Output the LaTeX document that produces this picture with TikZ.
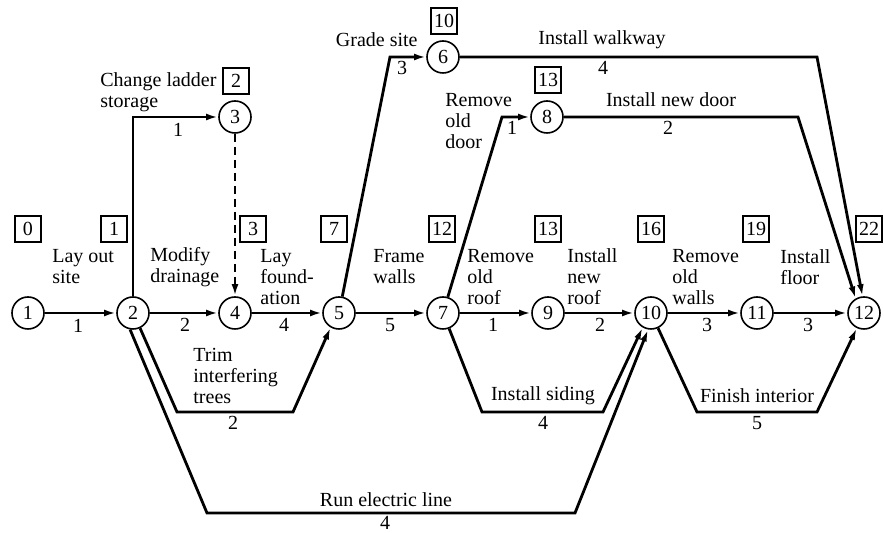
\documentclass[tikz,border=0pt]{standalone}
\usepackage{fontspec}
\setmainfont{Liberation Serif}
\usetikzlibrary{arrows.meta}
\tikzset{
  event/.style={circle, draw, line width=0.8pt, minimum size=16pt, inner sep=0pt,
                font=\fontsize{10}{10}\selectfont},
  timebox/.style={draw, line width=0.6pt, minimum width=13pt, minimum height=13pt,
                  inner sep=1pt, font=\fontsize{10}{10}\selectfont},
  lbl/.style={align=left, anchor=west, inner sep=0pt, font=\fontsize{10}{10.5}\selectfont},
  dur/.style={inner sep=0pt, font=\fontsize{10}{10}\selectfont},
  arr/.style={-{Latex[length=6pt,width=3.4pt]}, line width=1.4pt},
  dasharr/.style={arr, dash pattern=on 4pt off 2.5pt}}

\begin{document}
\begin{tikzpicture}[x=0.5pt, y=-0.5pt]
    \useasboundingbox (0,0) rectangle (884,533);
    % events
    \node[event] (n1)  at (28,313)  {1};
    \node[event] (n2)  at (133,313) {2};
    \node[event] (n3)  at (235,117) {3};
    \node[event] (n4)  at (235,313) {4};
    \node[event] (n5)  at (339,313) {5};
    \node[event] (n6)  at (443,57)  {6};
    \node[event] (n7)  at (443,313) {7};
    \node[event] (n8)  at (547,117) {8};
    \node[event] (n9)  at (548,313) {9};
    \node[event] (n10) at (651,313) {10};
    \node[event] (n11) at (757,313) {11};
    \node[event] (n12) at (864,313) {12};
    % earliest times
    \node[timebox] (t1)  at (28,229)  {0};
    \node[timebox] (t2)  at (114,229) {1};
    \node[timebox] (t3)  at (236,81)  {2};
    \node[timebox] (t4)  at (253,229) {3};
    \node[timebox] (t5)  at (334,229) {7};
    \node[timebox] (t6)  at (444,21)  {10};
    \node[timebox] (t7)  at (442,229) {12};
    \node[timebox] (t8)  at (548,80)  {13};
    \node[timebox] (t9)  at (548,229) {13};
    \node[timebox] (t10) at (651,229) {16};
    \node[timebox] (t11) at (756,229) {19};
    \node[timebox] (t12) at (869,229) {22};
    % activities
    \node[lbl] (a12) at (52,267)  {Lay out\\site};
    \node[lbl] (a23) at (100,92)  {Change ladder\\storage};
    \node[lbl] (a24) at (150,267) {Modify\\drainage};
    \node[lbl] (a25) at (193,376) {Trim\\interfering\\trees};
    \node[lbl] (a45) at (260,277) {Lay\\found-\\ation};
    \node[lbl, anchor=east] (a56) at (418,40) {Grade site};
    \node[lbl, anchor=center] (a612) at (602,40) {Install walkway};
    \node[lbl] (a57) at (373,267) {Frame\\walls};
    \node[lbl] (a78) at (445,121) {Remove\\old\\door};
    \node[lbl, anchor=center] (a812) at (671,100) {Install new door};
    \node[lbl] (a79) at (467,277) {Remove\\old\\roof};
    \node[lbl] (a910) at (567,277) {Install\\new\\roof};
    \node[lbl, anchor=center] (a710) at (543,396) {Install siding};
    \node[lbl, anchor=center] (a210) at (386,500) {Run electric line};
    \node[lbl] (a1011) at (672,277) {Remove\\old\\walls};
    \node[lbl] (a1112) at (780,267) {Install\\floor};
    \node[lbl, anchor=center] (a1012) at (757,396) {Finish interior};
    % durations
    \node[dur] (d12)   at (78,326)  {1};
    \node[dur] (d23)   at (178,130) {1};
    \node[dur] (d24)   at (185,325) {2};
    \node[dur] (d25)   at (233,423) {2};
    \node[dur] (d45)   at (284,325) {4};
    \node[dur] (d56)   at (402,68)  {3};
    \node[dur] (d612)  at (603,68)  {4};
    \node[dur] (d57)   at (390,325) {5};
    \node[dur] (d78)   at (512,128) {1};
    \node[dur] (d812)  at (668,128) {2};
    \node[dur] (d79)   at (493,325) {1};
    \node[dur] (d910)  at (600,325) {2};
    \node[dur] (d710)  at (543,423) {4};
    \node[dur] (d210)  at (385,523) {4};
    \node[dur] (d1011) at (707,325) {3};
    \node[dur] (d1112) at (808,325) {3};
    \node[dur] (d1012) at (757,423) {5};
    % connectors
    \draw[arr] (n1) -- (n2);
    \draw[arr] (n2) |- (n3);
    \draw[dasharr] (n3) -- (n4);
    \draw[arr] (n2) -- (n4);
    \draw[arr] (n2.-65) -- (177,412) -- (293,412) -- (n5.-120);
    \draw[arr] (n4) -- (n5);
    \draw[arr] (n5) -- (390,57) -- (n6);
    \draw[arr] (n6) -- (817,57) -- (n12.95);
    \draw[arr] (n5) -- (n7);
    \draw[arr] (n7) -- (502,117) -- (n8);
    \draw[arr] (n8) -- (798,117) -- (n12.120);
    \draw[arr] (n7) -- (n9);
    \draw[arr] (n9) -- (n10);
    \draw[arr] (n7) -- (482,412) -- (603,412) -- (n10.-120);
    \draw[arr] (n2.-100) -- (207,513) -- (575,513) -- (n10.-100);
    \draw[arr] (n10) -- (n11);
    \draw[arr] (n11) -- (n12);
    \draw[arr] (n10) -- (697,412) -- (817,412) -- (n12);
  \end{tikzpicture}
\end{document}
